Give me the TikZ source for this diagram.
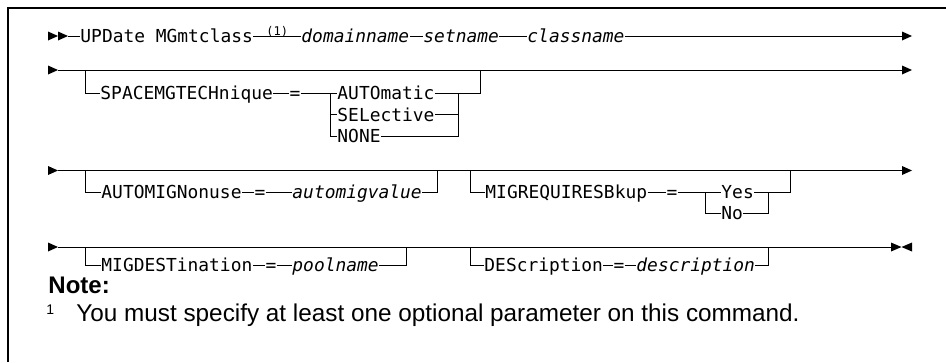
\documentclass[tikz,border=0pt]{standalone}
\usepackage{fontspec}
\setmainfont{Liberation Sans}
\setmonofont{DejaVu Sans Mono}
\begin{document}
\begin{tikzpicture}[x=1pt,y=-1pt,line width=0.9pt,kw/.style={font=\fontsize{17.9}{17.9}\selectfont\ttfamily,inner sep=0pt,text height=13pt,text depth=0pt,anchor=west},var/.style={kw,font=\fontsize{17.9}{17.9}\selectfont\ttfamily\itshape},eqsign/.style={kw,anchor=center},tag/.style={font=\fontsize{12}{12}\selectfont\ttfamily,inner sep=0pt,anchor=base west},notehead/.style={font=\fontsize{24}{24}\selectfont\bfseries,inner sep=0pt,anchor=base west},notetext/.style={font=\fontsize{24.3}{24.3}\selectfont,inner sep=0pt,anchor=base west},tip/.style={fill=black}]
\useasboundingbox (0,0) rectangle (946,362);
\draw[line width=1.6pt] (8,362) -- (8,8) -- (946,8);
\fill[tip] (48,31.5) -- (58,36) -- (48,40.5) -- cycle;
\fill[tip] (58,31.5) -- (68,36) -- (58,40.5) -- cycle;
\foreach \y in {70,170.5,247} \fill[tip] (48,\y-4.5) -- (58,\y) -- (48,\y+4.5) -- cycle;
\foreach \y in {36,70,170.5} \fill[tip] (902,\y-4.5) -- (912,\y) -- (902,\y+4.5) -- cycle;
\fill[tip] (891,242.5) -- (901.5,247) -- (891,251.5) -- cycle;
\fill[tip] (912,242.5) -- (901.5,247) -- (912,251.5) -- cycle;
\coordinate (s1) at (68,36);
\node[kw] (upd) at (80,36) {UPDate MGmtclass};
\node[tag] (n1) at (266,35) {(1)};
\node[var] (dom) at (301,36) {domainname};
\node[var] (set) at (423,36) {setname};
\node[var] (cls) at (527,36) {classname};
\coordinate (e1) at (902,36);
\draw (s1) -- (upd.west) (upd.east) -- (dom.west) (dom.east) -- (set.west) (set.east) -- (cls.west) (cls.east) -- (e1);
\coordinate (s2) at (58,70);
\coordinate (e2) at (902,70);
\draw (s2) -- (e2);
\coordinate (b2) at (85,70);
\node[kw] (spc) at (100,93) {SPACEMGTECHnique};
\node[eqsign] (eq1) at (295,93) {=};
\coordinate (c2) at (330,93);
\node[kw] (auto) at (337,93) {AUTOmatic};
\node[kw] (sel) at (337,114.5) {SELective};
\node[kw] (none) at (337,136) {NONE};
\coordinate (r2) at (458,93);
\coordinate (q2) at (480,70);
\draw (b2) |- (spc.west) (spc.east) -- (eq1.west) (eq1.east) -- (auto.west) (auto.east) -| (q2);
\draw (c2) |- (sel.west) (c2) |- (none.west) (sel.east) -| (r2) (none.east) -| (r2);
\coordinate (s3) at (58,170.5);
\coordinate (e3) at (902,170.5);
\draw (s3) -- (e3);
\coordinate (b3) at (85,170.5);
\node[kw] (ami) at (101,192) {AUTOMIGNonuse};
\node[eqsign] (eq2) at (260,192) {=};
\node[var] (amv) at (292,192) {automigvalue};
\coordinate (q3) at (437,170.5);
\draw (b3) |- (ami.west) (ami.east) -- (eq2.west) (eq2.east) -- (amv.west) (amv.east) -| (q3);
\coordinate (b3m) at (470,170.5);
\node[kw] (mrb) at (485,192) {MIGREQUIRESBkup};
\node[eqsign] (eq3) at (672,192) {=};
\coordinate (c3) at (705,192);
\node[kw] (yes) at (721,192) {Yes};
\node[kw] (no) at (721,213) {No};
\coordinate (r3) at (768,192);
\coordinate (q3m) at (790,170.5);
\draw (b3m) |- (mrb.west) (mrb.east) -- (eq3.west) (eq3.east) -- (yes.west) (yes.east) -| (q3m);
\draw (c3) |- (no.west) (no.east) -| (r3);
\coordinate (s4) at (58,247);
\coordinate (e4) at (891,247);
\draw (s4) -- (e4);
\coordinate (b4) at (85,247);
\node[kw] (mgd) at (101,265) {MIGDESTination};
\node[eqsign] (eq4) at (271,265) {=};
\node[var] (pool) at (292,265) {poolname};
\coordinate (q4) at (406,247);
\draw (b4) |- (mgd.west) (mgd.east) -- (eq4.west) (eq4.east) -- (pool.west) (pool.east) -| (q4);
\coordinate (b4m) at (470,247);
\node[kw] (dsc) at (484,265) {DEScription};
\node[eqsign] (eq5) at (619,265) {=};
\node[var] (desc) at (636,265) {description};
\coordinate (q4m) at (768,247);
\draw (b4m) |- (dsc.west) (dsc.east) -- (eq5.west) (eq5.east) -- (desc.west) (desc.east) -| (q4m);
\node[notehead] (note) at (48,293) {Note:};
\node[font=\fontsize{14}{14}\selectfont,inner sep=0pt,anchor=base west] (fn) at (46,314) {1};
\node[notetext] (fntext) at (76,321) {You must specify at least one optional parameter on this command.};
\end{tikzpicture}
\end{document}
